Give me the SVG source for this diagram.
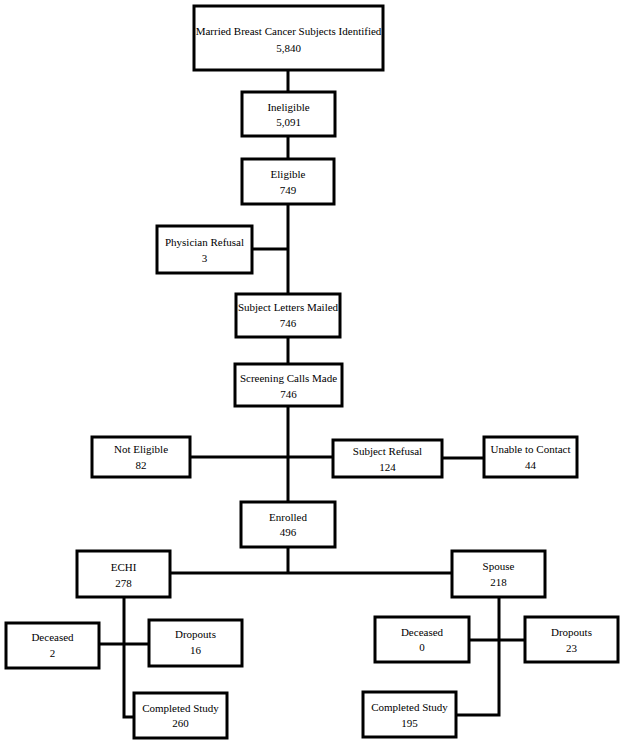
<svg xmlns="http://www.w3.org/2000/svg" width="624" height="745" viewBox="0 0 624 745">
<style>
.b{fill:#fff;stroke:#000;stroke-width:3}
.c{fill:none;stroke:#000;stroke-width:3}
.t{font-family:'Liberation Serif','Times New Roman','DejaVu Serif',serif;font-size:11px;fill:#000;text-anchor:middle}
</style>
<rect width="624" height="745" fill="#fff"/>
<g id="connectors">
<path class="c" d="M288,71V91M288,137V158M288,205V293M253,249H288M288,338V363M288,407V501M191,457H332M443,458H483M288,548V573M171,573H451"/>
<path class="c" d="M124,598V717H133M100,644H148"/>
<path class="c" d="M499,598V715H457M470,640H524"/>
</g>
<g class="t" font-family="Liberation Serif, Times New Roman, DejaVu Serif, serif">
<g id="n1"><rect class="b" x="194" y="6" width="189" height="64"/><text x="288.5" y="35">Married Breast Cancer Subjects Identified</text><text x="288.5" y="52">5,840</text></g>
<g id="n2"><rect class="b" x="242" y="92" width="93" height="44"/><text x="288.5" y="111">Ineligible</text><text x="288.5" y="126">5,091</text></g>
<g id="n3"><rect class="b" x="242" y="159" width="92" height="45"/><text x="288" y="178">Eligible</text><text x="288" y="194">749</text></g>
<g id="n4"><rect class="b" x="157" y="226" width="95" height="47"/><text x="204.5" y="246">Physician Refusal</text><text x="204.5" y="262">3</text></g>
<g id="n5"><rect class="b" x="236" y="294" width="104" height="43"/><text x="288" y="311">Subject Letters Mailed</text><text x="288" y="327">746</text></g>
<g id="n6"><rect class="b" x="235" y="364" width="107" height="42"/><text x="288.5" y="382">Screening Calls Made</text><text x="288.5" y="398">746</text></g>
<g id="n7"><rect class="b" x="92" y="437" width="98" height="40"/><text x="141" y="453">Not Eligible</text><text x="141" y="469">82</text></g>
<g id="n8"><rect class="b" x="333" y="440" width="109" height="37"/><text x="387.5" y="455">Subject Refusal</text><text x="387.5" y="471">124</text></g>
<g id="n9"><rect class="b" x="484" y="437" width="93" height="40"/><text x="530.5" y="453">Unable to Contact</text><text x="530.5" y="469">44</text></g>
<g id="n10"><rect class="b" x="241" y="502" width="94" height="45"/><text x="288" y="521">Enrolled</text><text x="288" y="536">496</text></g>
<g id="n11"><rect class="b" x="77" y="551" width="93" height="46"/><text x="123.5" y="571">ECHI</text><text x="123.5" y="587">278</text></g>
<g id="n12"><rect class="b" x="452" y="551" width="93" height="46"/><text x="498.5" y="570">Spouse</text><text x="498.5" y="586">218</text></g>
<g id="n13"><rect class="b" x="6" y="623" width="93" height="45"/><text x="52.5" y="641">Deceased</text><text x="52.5" y="657">2</text></g>
<g id="n14"><rect class="b" x="149" y="620" width="93" height="46"/><text x="195.5" y="638">Dropouts</text><text x="195.5" y="654">16</text></g>
<g id="n15"><rect class="b" x="134" y="693" width="93" height="45"/><text x="180.5" y="712">Completed Study</text><text x="180.5" y="727">260</text></g>
<g id="n16"><rect class="b" x="375" y="617" width="94" height="45"/><text x="422" y="636">Deceased</text><text x="422" y="651">0</text></g>
<g id="n17"><rect class="b" x="525" y="617" width="93" height="45"/><text x="571.5" y="636">Dropouts</text><text x="571.5" y="652">23</text></g>
<g id="n18"><rect class="b" x="363" y="692" width="93" height="45"/><text x="409.5" y="711">Completed Study</text><text x="409.5" y="727">195</text></g>
</g>
</svg>
